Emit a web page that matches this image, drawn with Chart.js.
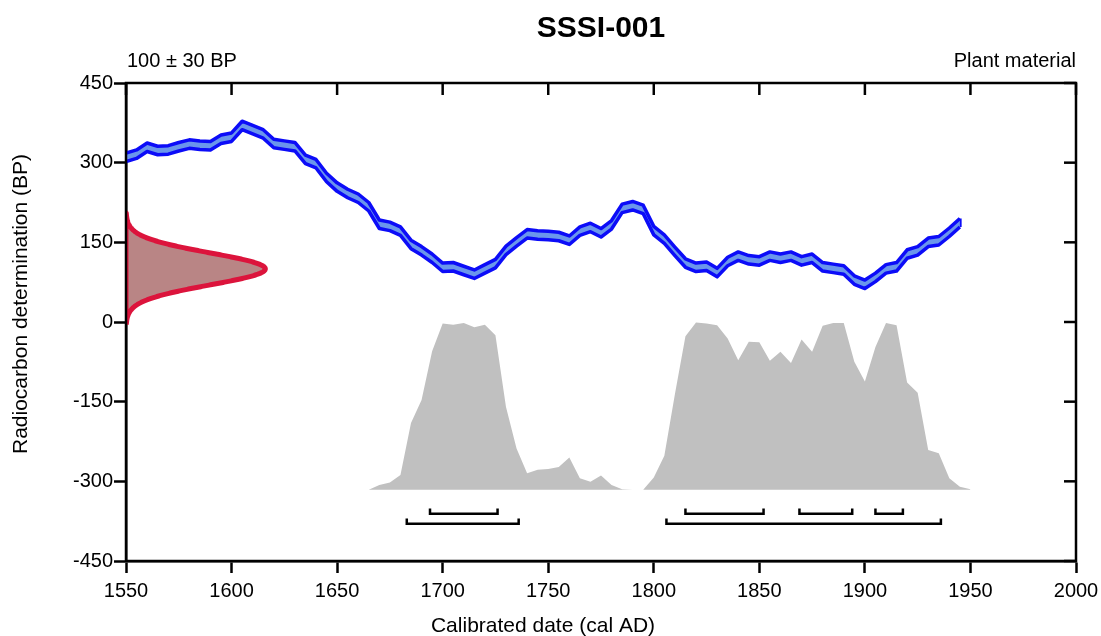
<!DOCTYPE html>
<html>
<head>
<meta charset="utf-8">
<title>SSSI-001</title>
<script src="https://cdn.jsdelivr.net/npm/chart.js@4/dist/chart.umd.min.js"></script>
<style>
  html, body { margin: 0; padding: 0; background: #ffffff; }
  #wrap { width: 1101px; height: 636px; position: relative; }
</style>
</head>
<body>
<div id="wrap"><canvas id="chart" width="1101" height="636"></canvas></div>
<script>
// ---- Data -------------------------------------------------------------
// Sample determination
const SAMPLE_MEAN = 100;   // BP
const SAMPLE_SIGMA = 30;   // BP

// Calibration curve (cal AD vs BP)
const CURVE_YEARS = [
  1550,1555,1560,1565,1570,1575,1580,1585,1590,1595,
  1600,1605,1610,1615,1620,1625,1630,1635,1640,1645,
  1650,1655,1660,1665,1670,1675,1680,1685,1690,1695,
  1700,1705,1710,1715,1720,1725,1730,1735,1740,1745,
  1750,1755,1760,1765,1770,1775,1780,1785,1790,1795,
  1800,1805,1810,1815,1820,1825,1830,1835,1840,1845,
  1850,1855,1860,1865,1870,1875,1880,1885,1890,1895,
  1900,1905,1910,1915,1920,1925,1930,1935,1940,1945
];
const CURVE_BP = [
  310,316,329,323,324,330,335,333,332,344,
  348,370,362,354,336,333,330,306,298,272,
  254,242,233,217,184,180,171,146,134,120,
  103,104, 97, 90,100,110,135,151,166,164,
  163,161,154,171,178,168,183,214,219,212,
  172,156,133,111,103,105, 93,114,124,117,
  115,124,120,124,115,120,104,101, 98, 79,
   71, 84,100,104,128,134,150,153,169,187
];
const CURVE_ERR = 8;       // BP, half-width of the curve band

// Calibrated date distribution (upper edge, drawn above a common baseline)
const CAL_YEARS = [
  1665,1670,1675,1680,1685,1690,1695,1700,1705,1710,
  1715,1720,1725,1730,1735,1740,1745,1750,1755,1760,
  1765,1770,1775,1780,1785,1790,1795,1800,1805,1810,
  1815,1820,1825,1830,1835,1840,1845,1850,1855,1860,
  1865,1870,1875,1880,1885,1890,1895,1900,1905,1910,
  1915,1920,1925,1930,1935,1940,1945,1950
];
const CAL_TOP = [
  -316,-307,-302,-288,-190,-147, -55,  -3,  -5,  -2,
   -10,  -5, -25,-160,-238,-285,-278,-277,-273,-255,
  -294,-301,-289,-307,-315,-316,-316,-293,-252,-136,
   -27,  -1,  -3,  -6, -31, -72, -37, -38, -73, -56,
   -77, -33, -56,  -7,  -2,  -2, -75,-112, -47,  -2,
    -6,-114,-133,-241,-247,-294,-310,-315
];
const CAL_BASE = -316;

// Highest posterior density ranges (cal AD)
const RANGES_68 = [[1694, 1726], [1815, 1852], [1869, 1894], [1905, 1918]];
const RANGES_95 = [[1683, 1736], [1806, 1936]];
const LEVEL_68 = -361;
const LEVEL_95 = -380;
const RANGE_TICK = 10;

// Axes
const X_TICK_LABELS = [1550, 1600, 1650, 1700, 1750, 1800, 1850, 1900, 1950, 2000];
const Y_TICK_LABELS = [-450, -300, -150, 0, 150, 300, 450];
const DENSITY_PEAK_YEARS = 66;   // horizontal extent of the BP density

// ---- Derived point lists ------------------------------------------------
const upperBand = CURVE_YEARS.map((x, i) => ({ x, y: CURVE_BP[i] + CURVE_ERR }));
const lowerBand = CURVE_YEARS.map((x, i) => ({ x, y: CURVE_BP[i] - CURVE_ERR }));
const lastIdx = CURVE_YEARS.length - 1;
const bandCap = [
  { x: CURVE_YEARS[lastIdx], y: CURVE_BP[lastIdx] + CURVE_ERR },
  { x: CURVE_YEARS[lastIdx], y: CURVE_BP[lastIdx] - CURVE_ERR }
];

// Normal density of the determination, laid along the BP axis
const xMin = X_TICK_LABELS[0];
const densityPts = [];
for (let bp = SAMPLE_MEAN - 3.5 * SAMPLE_SIGMA; bp <= SAMPLE_MEAN + 3.5 * SAMPLE_SIGMA + 1e-9; bp += 1) {
  const z = (bp - SAMPLE_MEAN) / SAMPLE_SIGMA;
  densityPts.push({ x: xMin + DENSITY_PEAK_YEARS * Math.exp(-0.5 * z * z), y: bp });
}
densityPts.push({ x: xMin, y: SAMPLE_MEAN + 3.5 * SAMPLE_SIGMA });
densityPts.push({ x: xMin, y: SAMPLE_MEAN - 3.5 * SAMPLE_SIGMA });
densityPts.push({ ...densityPts[0] });

const calPts = CAL_YEARS.map((x, i) => ({ x, y: CAL_TOP[i] }));

function bracketPoints(ranges, level) {
  const pts = [];
  ranges.forEach(([a, b]) => {
    pts.push({ x: a, y: level + RANGE_TICK }, { x: a, y: level },
             { x: b, y: level }, { x: b, y: level + RANGE_TICK }, { x: b, y: null });
  });
  return pts;
}

// ---- Plugins ------------------------------------------------------------
const FONT = "'Liberation Sans', Arial, Helvetica, sans-serif";

const framePlugin = {
  id: 'frame',
  afterDatasetsDraw(chart) {
    const { ctx, chartArea: a, scales } = chart;
    ctx.save();
    ctx.strokeStyle = '#000';
    ctx.lineWidth = 2.5;
    ctx.lineCap = 'square';
    ctx.strokeRect(a.left, a.top, a.right - a.left, a.bottom - a.top);
    ctx.lineCap = 'butt';
    const len = 12;
    scales.x.ticks.forEach(t => {
      const px = scales.x.getPixelForValue(t.value);
      ctx.beginPath(); ctx.moveTo(px, a.top); ctx.lineTo(px, a.top + len); ctx.stroke();
    });
    scales.y.ticks.forEach(t => {
      const py = scales.y.getPixelForValue(t.value);
      ctx.beginPath(); ctx.moveTo(a.right, py); ctx.lineTo(a.right - len, py); ctx.stroke();
    });
    ctx.restore();
  }
};

const textPlugin = {
  id: 'texts',
  afterDraw(chart) {
    const { ctx, chartArea: a } = chart;
    ctx.save();
    ctx.fillStyle = '#000';
    ctx.textBaseline = 'middle';

    ctx.font = `bold 30px ${FONT}`;
    ctx.textAlign = 'center';
    ctx.fillText('SSSI-001', (a.left + a.right) / 2, 29);

    ctx.font = `20px ${FONT}`;
    ctx.textAlign = 'left';
    ctx.fillText('100 \u00B1 30 BP', a.left + 1, 61);
    ctx.textAlign = 'right';
    ctx.fillText('Plant material', a.right, 61);

    ctx.font = `21px ${FONT}`;
    ctx.textAlign = 'center';
    ctx.fillText('Calibrated date (cal AD)', 543, 626);

    ctx.translate(21, 304);
    ctx.rotate(-Math.PI / 2);
    ctx.fillText('Radiocarbon determination (BP)', 0, 0);
    ctx.restore();
  }
};

// ---- Chart --------------------------------------------------------------
const BLUE = '#0c0cf8';
const BLUE_FILL = '#6a96ec';

new Chart(document.getElementById('chart'), {
  type: 'line',
  data: {
    datasets: [
      { data: upperBand, borderColor: BLUE, borderWidth: 3.5, fill: false, pointRadius: 0, borderJoinStyle: 'round' },
      { data: lowerBand, borderColor: BLUE, borderWidth: 3.5, fill: 0, backgroundColor: BLUE_FILL, pointRadius: 0, borderJoinStyle: 'round' },
      { data: bandCap, borderColor: BLUE, borderWidth: 3.5, fill: false, pointRadius: 0 },
      { data: densityPts, borderColor: '#dc143c', borderWidth: 5, backgroundColor: 'rgb(185,133,133)',
        fill: 'shape', pointRadius: 0, tension: 0.05, clip: 0, borderJoinStyle: 'round' },
      { data: bracketPoints(RANGES_68, LEVEL_68), borderColor: '#000', borderWidth: 2.5, fill: false,
        pointRadius: 0, spanGaps: false, borderJoinStyle: 'miter' },
      { data: bracketPoints(RANGES_95, LEVEL_95), borderColor: '#000', borderWidth: 2.5, fill: false,
        pointRadius: 0, spanGaps: false, borderJoinStyle: 'miter' },
      { data: calPts, borderWidth: 0, borderColor: 'rgba(0,0,0,0)', backgroundColor: '#c0c0c0',
        fill: { value: CAL_BASE }, pointRadius: 0 }
    ]
  },
  options: {
    responsive: false,
    animation: false,
    events: [],
    parsing: true,
    layout: { padding: { top: 83, right: 25, left: 0, bottom: 0 } },
    plugins: { legend: { display: false }, tooltip: { enabled: false }, title: { display: false } },
    scales: {
      x: {
        type: 'linear', min: X_TICK_LABELS[0], max: X_TICK_LABELS[X_TICK_LABELS.length - 1],
        afterBuildTicks: s => { s.ticks = X_TICK_LABELS.map(v => ({ value: v })); },
        afterFit: s => { s.height = 75; s.paddingLeft = 0; s.paddingRight = 0; },
        ticks: { font: { family: FONT, size: 20 }, color: '#000', padding: 6, maxRotation: 0, autoSkip: false,
                 callback: v => String(v) },
        grid: { display: true, drawOnChartArea: false, drawTicks: true, tickLength: 12, tickWidth: 2.5, tickColor: '#000' },
        border: { display: true, color: '#000', width: 2.5 }
      },
      y: {
        type: 'linear', min: Y_TICK_LABELS[0], max: Y_TICK_LABELS[Y_TICK_LABELS.length - 1],
        afterBuildTicks: s => { s.ticks = Y_TICK_LABELS.map(v => ({ value: v })); },
        afterFit: s => { s.width = 126; s.paddingTop = 0; s.paddingBottom = 0; },
        ticks: { font: { family: FONT, size: 20 }, color: '#000', padding: 1, autoSkip: false,
                 callback: v => String(v) },
        grid: { display: true, drawOnChartArea: false, drawTicks: true, tickLength: 12, tickWidth: 2.5, tickColor: '#000' },
        border: { display: true, color: '#000', width: 2.5 }
      }
    }
  },
  plugins: [framePlugin, textPlugin]
});
</script>
</body>
</html>
